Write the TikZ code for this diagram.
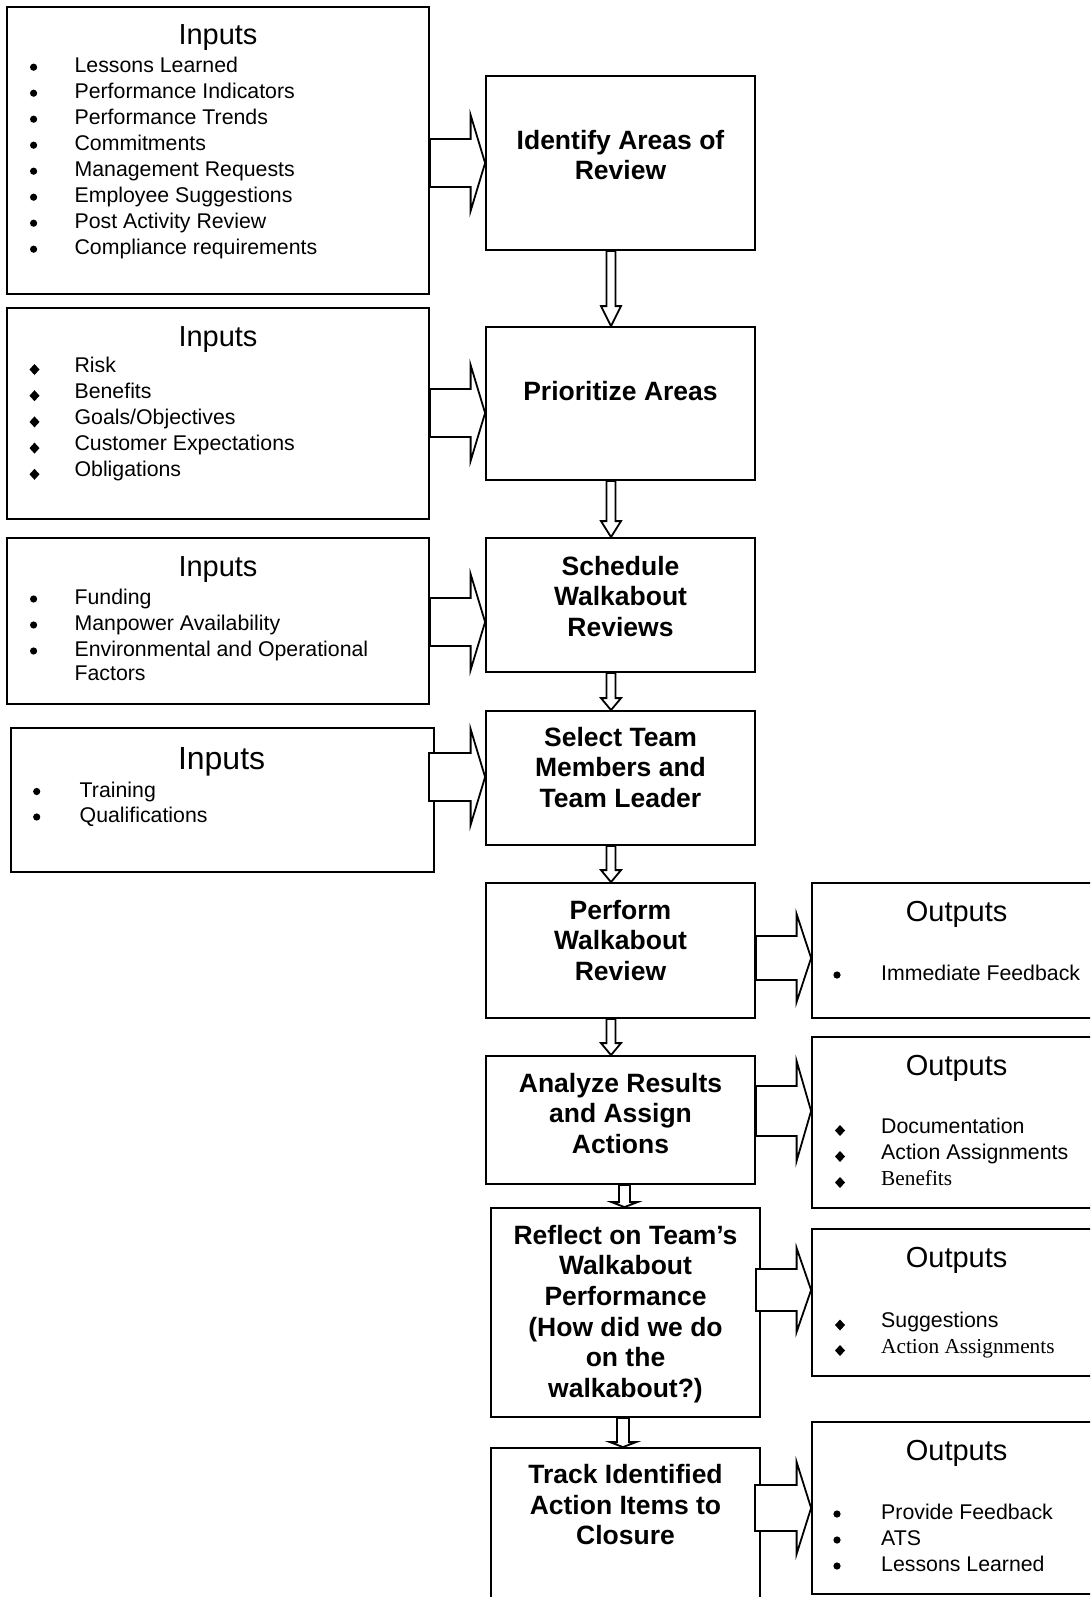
\documentclass[tikz,border=0pt]{standalone}
\usepackage{fontspec}
\setmainfont{Liberation Sans}
\newfontfamily\timesfont{Liberation Serif}
\usetikzlibrary{calc}

% block arrow to the right: from node, to node, height, shaft half width, start shift
\newcommand{\fatright}[5]{%
  \path (#1.east |- 0,#3) ++(#5,0) coordinate (fa-s) (#2.west |- 0,#3) coordinate (fa-t);
  \draw[fat] ($(fa-s)+(0,-#4)$) -- ($(fa-t)+(-14.5,-#4)$) -- ($(fa-t)+(-14.5,-2*#4)$) -- (fa-t)
    -- ($(fa-t)+(-14.5,2*#4)$) -- ($(fa-t)+(-14.5,#4)$) -- ($(fa-s)+(0,#4)$) -- cycle;}
% block arrow downwards: from node, to node, x, shaft half, head half, head length
\newcommand{\fatdown}[6]{%
  \path (#1.south -| #3,0) coordinate (fa-s) (#2.north -| #3,0) coordinate (fa-t);
  \draw[fat] ($(fa-s)+(-#4,0)$) -- ($(fa-t)+(-#4,-#6)$) -- ($(fa-t)+(-#5,-#6)$) -- (fa-t)
    -- ($(fa-t)+(#5,-#6)$) -- ($(fa-t)+(#4,-#6)$) -- ($(fa-s)+(#4,0)$) -- cycle;}

\begin{document}
\begin{tikzpicture}[x=1pt, y=-1pt,
    box/.style={draw, line width=1.8pt, inner sep=0pt},
    fat/.style={draw, line width=1.8pt, fill=white, line join=miter},
    title/.style={anchor=base, inner sep=0pt, font=\fontsize{29}{34}\selectfont},
    proctext/.style={anchor=north, align=center, inner sep=0pt,
                     font=\fontsize{26.5}{30.6}\selectfont\bfseries},
    item/.style={anchor=base west, inner sep=0pt, font=\fontsize{21.3}{23.4}\selectfont},
    roundbul/.pic={\fill (0,0) circle (3.6);},
    diabul/.pic={\fill (0,-8) -- (5,-2.5) -- (0,3) -- (-5,-2.5) -- cycle;},
]
    \clip (0,0) rectangle (1090,1597);

    % input boxes
    \node[box, minimum width=422pt, minimum height=287pt] (in1) at (218,150.5) {};
    \node[box, minimum width=422pt, minimum height=211pt] (in2) at (218,413.5) {};
    \node[box, minimum width=422pt, minimum height=166pt] (in3) at (218,621) {};
    \node[box, minimum width=423pt, minimum height=144pt] (in4) at (222.5,800) {};

    % process boxes
    \node[box, minimum width=269pt, minimum height=174pt] (ident) at (620.5,163) {};
    \node[box, minimum width=269pt, minimum height=153pt] (prior) at (620.5,403.5) {};
    \node[box, minimum width=269pt, minimum height=134pt] (sched) at (620.5,605) {};
    \node[box, minimum width=269pt, minimum height=134pt] (select) at (620.5,778) {};
    \node[box, minimum width=269pt, minimum height=135pt] (perf) at (620.5,950.5) {};
    \node[box, minimum width=269pt, minimum height=128pt] (anal) at (620.5,1120) {};
    \node[box, minimum width=269pt, minimum height=209pt] (refl) at (625.5,1312.5) {};
    \node[box, minimum width=269pt, minimum height=172pt] (track) at (625.5,1534) {};

    % output boxes
    \node[box, minimum width=288pt, minimum height=135pt] (out1) at (956,950.5) {};
    \node[box, minimum width=288pt, minimum height=171pt] (out2) at (956,1122.5) {};
    \node[box, minimum width=288pt, minimum height=147pt] (out3) at (956,1302.5) {};
    \node[box, minimum width=288pt, minimum height=172pt] (out4) at (956,1508) {};

    % arrows
    \fatright{in1}{ident}{163}{24}{0}
    \fatright{in2}{prior}{413}{24}{0}
    \fatright{in3}{sched}{622}{24}{0}
    \fatright{in4}{select}{777}{24}{-6}
    \fatright{perf}{out1}{958}{22}{0}
    \fatright{anal}{out2}{1111}{25}{0}
    \fatright{refl}{out3}{1290}{21}{-5}
    \fatright{track}{out4}{1508}{23}{-6}
    \fatdown{ident}{prior}{611}{4.5}{10}{20}
    \fatdown{prior}{sched}{611}{4.5}{10}{16}
    \fatdown{sched}{select}{611}{4.5}{10}{12}
    \fatdown{select}{perf}{611}{4.5}{10}{12}
    \fatdown{perf}{anal}{611}{4.5}{10}{12}
    \fatdown{anal}{refl}{624.5}{5.5}{13}{5}
    \fatdown{refl}{track}{623}{6}{13}{5}

    % process texts
    \node[proctext] (ident-t) at (ident |- 0,129.8) {Identify Areas of\\Review};
    \node[proctext] (prior-t) at (prior |- 0,380.8) {Prioritize Areas};
    \node[proctext] (sched-t) at (sched |- 0,555.8) {Schedule\\Walkabout\\Reviews};
    \node[proctext] (select-t) at (select |- 0,726.8) {Select Team\\Members and\\Team Leader};
    \node[proctext] (perf-t) at (perf |- 0,899.8) {Perform\\Walkabout\\Review};
    \node[proctext] (anal-t) at (anal |- 0,1072.8) {Analyze Results\\and Assign\\Actions};
    \node[proctext] (refl-t) at (refl |- 0,1224.8) {Reflect on Team’s\\Walkabout\\Performance\\(How did we do\\on the\\walkabout?)};
    \node[proctext] (track-t) at (track |- 0,1464.3) {Track Identified\\Action Items to\\Closure};

    % inputs
    \node[title] (in1-title) at (218,45) {Inputs};
    \foreach \txt [count=\i] in {Lessons Learned, Performance Indicators, Performance Trends,
        Commitments, Management Requests, Employee Suggestions, Post Activity Review,
        Compliance requirements} {
      \node[item] (in1-\i) at (74.4,{46.7+26*\i}) {\txt};
      \pic at (33.6,{41.2+26*\i}) {roundbul};
    }
    \node[title] (in2-title) at (218,346) {Inputs};
    \foreach \txt [count=\i] in {Risk, Benefits, {Goals/Objectives}, Customer Expectations,
        Obligations} {
      \node[item] (in2-\i) at (74.4,{345.8+26.2*\i}) {\txt};
      \pic at (34.5,{345.8+26.2*\i}) {diabul};
    }
    \node[title] (in3-title) at (218,576.4) {Inputs};
    \foreach \txt [count=\i] in {Funding, Manpower Availability, Environmental and Operational} {
      \node[item] (in3-\i) at (74.4,{578.5+26*\i}) {\txt};
      \pic at (33.6,{573+26*\i}) {roundbul};
    }
    \node[item] (in3-4) at (74.4,680) {Factors};
    \node[title, font=\fontsize{32}{38}\selectfont] (in4-title) at (221.6,769.5) {Inputs};
    \foreach \txt [count=\i] in {Training, Qualifications} {
      \node[item] (in4-\i) at (79.5,{771.5+25.5*\i}) {\txt};
      \pic at (36.7,{766+25.5*\i}) {roundbul};
    }

    % outputs
    \node[title] (out1-title) at (956.6,921) {Outputs};
    \node[item] (out1-1) at (881,980.5) {Immediate Feedback};
    \pic at (837,975) {roundbul};
    \node[title] (out2-title) at (956.6,1075) {Outputs};
    \foreach \txt [count=\i] in {Documentation, Action Assignments, {\timesfont Benefits}} {
      \node[item] (out2-\i) at (881,{1107+26*\i}) {\txt};
      \pic at (840,{1107+26*\i}) {diabul};
    }
    \node[title] (out3-title) at (956.6,1267) {Outputs};
    \foreach \txt [count=\i] in {Suggestions, {\timesfont Action Assignments}} {
      \node[item] (out3-\i) at (881,{1302+25.5*\i}) {\txt};
      \pic at (840,{1302+25.5*\i}) {diabul};
    }
    \node[title] (out4-title) at (956.6,1460) {Outputs};
    \foreach \txt [count=\i] in {Provide Feedback, ATS, Lessons Learned} {
      \node[item] (out4-\i) at (881,{1493+26*\i}) {\txt};
      \pic at (837,{1488+26*\i}) {roundbul};
    }
\end{tikzpicture}
\end{document}
